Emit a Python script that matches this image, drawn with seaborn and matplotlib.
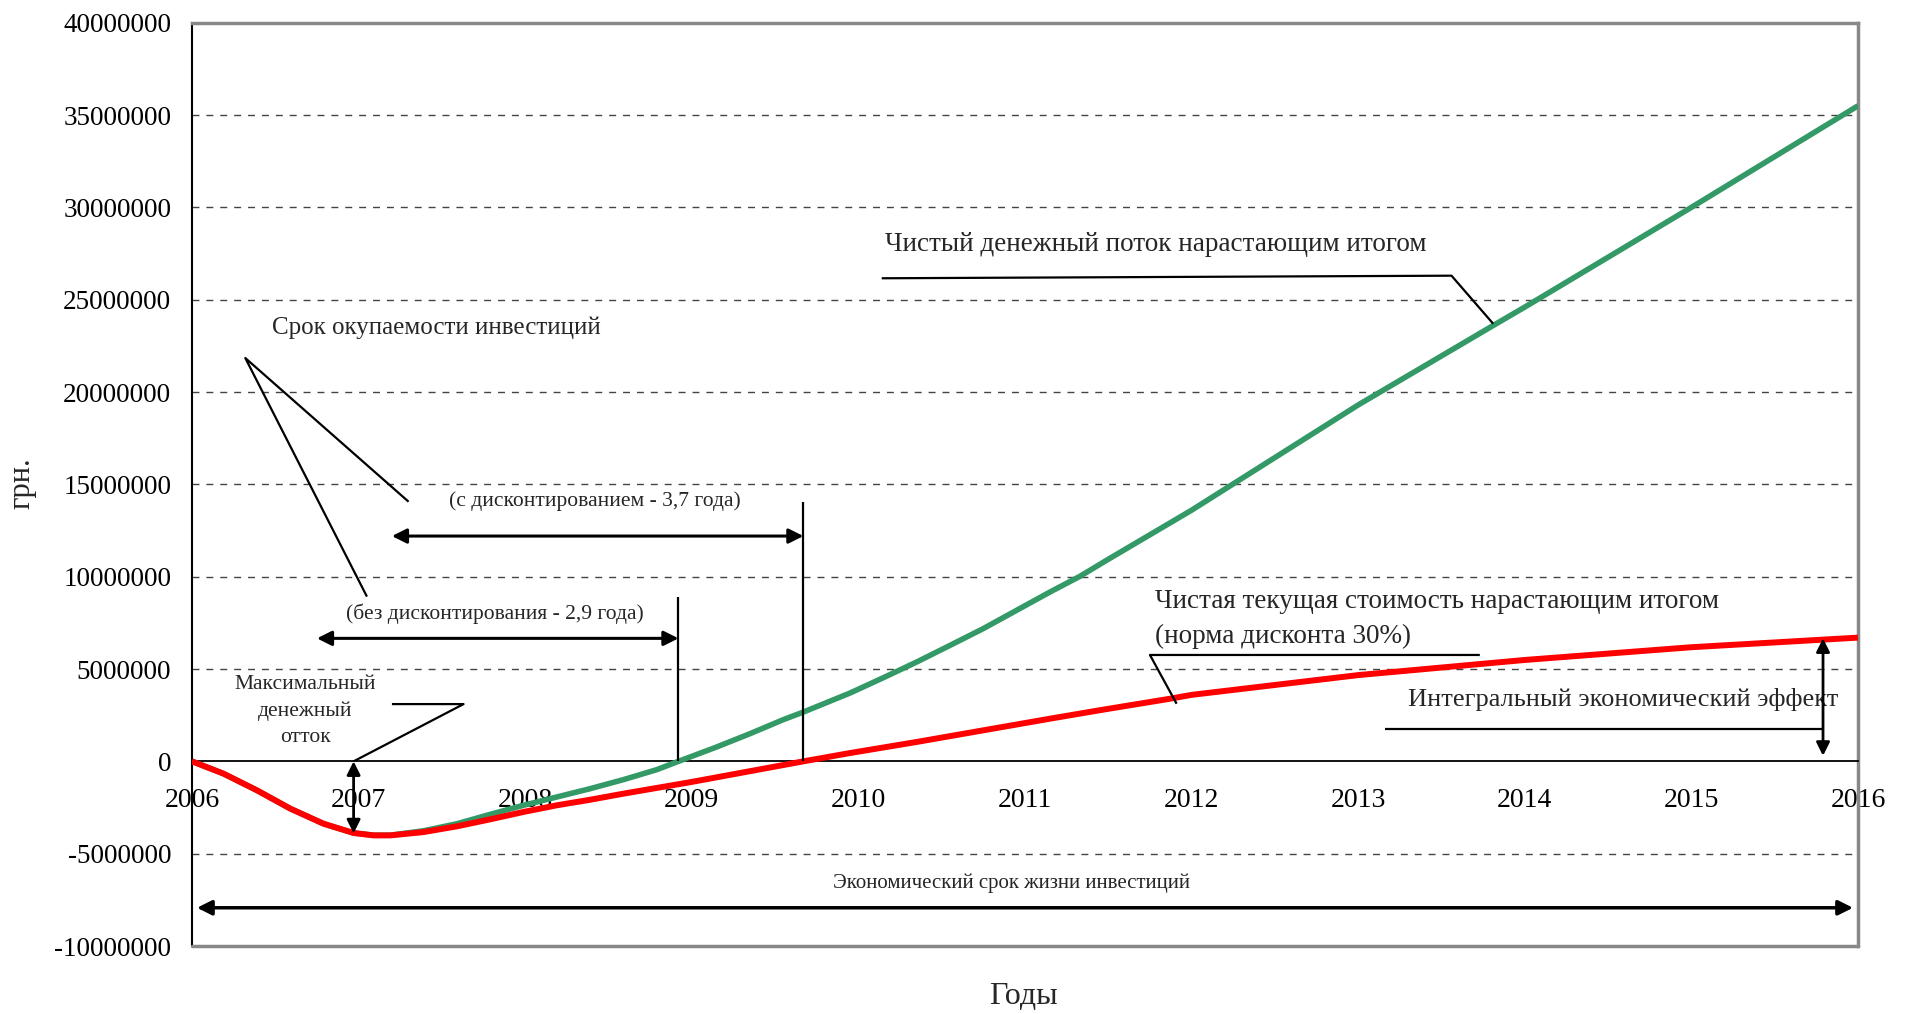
import matplotlib
matplotlib.use("Agg")
import matplotlib.pyplot as plt
import seaborn as sns
import pandas as pd

# ---- data, values in million UAH ----
years_cf = [2006, 2006.19, 2006.39, 2006.59, 2006.79, 2006.97, 2007.09, 2007.19,
            2007.39, 2007.59, 2007.79, 2007.99, 2008.19, 2008.39, 2008.59, 2008.79,
            2008.92, 2009.15, 2009.35, 2009.55, 2009.67, 2009.95, 2010.15, 2010.35,
            2010.55, 2010.75, 2010.95, 2011.15, 2011.33, 2011.49, 2012, 2012.5,
            2013, 2013.81, 2014, 2015, 2016]
cash_flow_cum = [0, -0.67, -1.57, -2.56, -3.38, -3.88, -4.0, -4.0,
                 -3.76, -3.38, -2.87, -2.38, -1.93, -1.48, -0.99, -0.45,
                 0, 0.78, 1.5, 2.26, 2.67, 3.7, 4.53, 5.38,
                 6.28, 7.19, 8.18, 9.17, 10.02, 10.89, 13.6, 16.45,
                 19.3, 23.6, 24.6, 30.0, 35.5]

years_npv = [2006, 2006.19, 2006.39, 2006.59, 2006.79, 2006.97, 2007.09, 2007.19,
             2007.39, 2007.59, 2007.79, 2007.99, 2008.19, 2008.39, 2008.59, 2008.79,
             2008.99, 2009.67, 2009.95, 2010.35, 2010.75, 2011.15, 2011.45, 2011.87,
             2012, 2013, 2014, 2015, 2016]
npv_cum = [0, -0.67, -1.57, -2.56, -3.38, -3.88, -4.01, -4.01,
           -3.83, -3.52, -3.14, -2.74, -2.38, -2.08, -1.75, -1.44,
           -1.13, 0, 0.45, 1.05, 1.68, 2.31, 2.77, 3.39,
           3.6, 4.67, 5.49, 6.18, 6.70]

series_names = ["Чистый денежный поток", "Чистая текущая стоимость"]
series_colors = ["#339966", "#FF0000"]
x_ticks = list(range(2006, 2017))
y_ticks = list(range(-10000000, 40000001, 5000000))

df = pd.concat([
    pd.DataFrame({"year": years_cf, "value": [v * 1e6 for v in cash_flow_cum], "series": series_names[0]}),
    pd.DataFrame({"year": years_npv, "value": [v * 1e6 for v in npv_cum], "series": series_names[1]}),
])

sns.set_style("white")
plt.rcParams["font.family"] = ["Liberation Serif", "DejaVu Serif"]

W, H = 1910, 1014
fig = plt.figure(figsize=(W / 100, H / 100), dpi=100)
L, R, T, B = 192, 1858, 22.7, 946
ax = fig.add_axes([L / W, 1 - B / H, (R - L) / W, (B - T) / H])

ax.set_xlim(2006, 2016)
ax.set_ylim(-10e6, 40e6)

ax.set_yticks(y_ticks)
ax.set_yticklabels([str(v) for v in y_ticks])
ax.set_xticks(x_ticks)
ax.set_xticklabels([str(v) for v in x_ticks])
for v in y_ticks:
    if v not in (0, 40000000, -10000000):
        ax.axhline(v, color="#444444", lw=1.0, linestyle=(0, (5, 5)), zorder=0.5)

sns.lineplot(data=df, x="year", y="value", hue="series", hue_order=series_names,
             palette=series_colors, linewidth=4.0, legend=False, ax=ax, zorder=3,
             estimator=None, sort=False)
for ln in ax.lines[-2:]:
    ln.set_solid_joinstyle("round")
    ln.set_solid_capstyle("butt")
ax.lines[-1].set_linewidth(4.3)

# frame
for s in ("top", "right"):
    ax.spines[s].set_color("#888888")
    ax.spines[s].set_linewidth(2.5)
ax.spines["left"].set_color("black")
ax.spines["left"].set_linewidth(1.5)
ax.spines["bottom"].set_position(("data", 0))
ax.spines["bottom"].set_color("black")
ax.spines["bottom"].set_linewidth(1.3)
ax.plot([0, 1], [0, 0], transform=ax.transAxes, color="#888888", lw=2.5, clip_on=False, zorder=5)

ax.tick_params(axis="x", direction="out", length=6, width=1.2, pad=13, labelsize=20, colors="black")
ax.tick_params(axis="y", direction="inout", length=12, width=1.2, pad=9, labelsize=19.5, colors="black")
ax.set_xlabel("")
ax.set_ylabel("")

fig.text(1023 / W, 1 - 996 / H, "Годы", fontsize=23, ha="center", va="center")
fig.text(22 / W, 1 - 483 / H, "грн.", fontsize=22, ha="center", va="center", rotation=90)

lk = dict(color="black", lw=1.6, zorder=4, solid_capstyle="butt")
M = 1e6
arr = dict(arrowstyle="<|-|>", color="black", shrinkA=0, shrinkB=0)

# net cash flow label
ax.text(2010.16, 28.0 * M, "Чистый денежный поток нарастающим итогом", fontsize=19.5, ha="left", va="center")
ax.plot([2010.14, 2013.56, 2013.81], [26.16 * M, 26.3 * M, 23.7 * M], **lk)

# payback label
ax.text(2006.48, 23.47 * M, "Срок окупаемости инвестиций", fontsize=18, ha="left", va="center")
ax.plot([2007.3, 2006.32, 2007.05], [14.06 * M, 21.84 * M, 8.92 * M], **lk)

# discounted payback
ax.text(2008.42, 14.1 * M, "(с дисконтированием - 3,7 года)", fontsize=15.5, ha="center", va="center")
ax.annotate("", xy=(2007.2, 12.2 * M), xytext=(2009.67, 12.2 * M),
            arrowprops=dict(arr, lw=2.2, mutation_scale=22), zorder=4)
ax.plot([2009.67, 2009.67], [0, 14.06 * M], **lk)

# simple payback
ax.text(2007.82, 8.0 * M, "(без дисконтирования - 2,9 года)", fontsize=15.5, ha="center", va="center")
ax.annotate("", xy=(2006.75, 6.66 * M), xytext=(2008.92, 6.66 * M),
            arrowprops=dict(arr, lw=2.2, mutation_scale=22), zorder=4)
ax.plot([2008.92, 2008.92], [0, 8.92 * M], **lk)

# max outflow
ax.text(2006.68, 2.71 * M, "Максимальный\nденежный\nотток", fontsize=15.5, ha="center", va="center",
        linespacing=1.5)
ax.plot([2007.2, 2007.63, 2006.97], [3.1 * M, 3.1 * M, 0], **lk)
ax.annotate("", xy=(2006.97, 0), xytext=(2006.97, -3.9 * M),
            arrowprops=dict(arr, lw=2.0, mutation_scale=20), zorder=4)

# NPV label
ax.text(2011.78, 8.66 * M, "Чистая текущая стоимость нарастающим итогом", fontsize=19.5, ha="left", va="center")
ax.text(2011.78, 6.76 * M, "(норма дисконта 30%)", fontsize=19.5, ha="left", va="center")
ax.plot([2013.73, 2011.75, 2011.91], [5.76 * M, 5.76 * M, 3.12 * M], **lk)

# integral effect
ax.text(2013.30, 3.35 * M, "Интегральный экономический эффект", fontsize=19, ha="left", va="center")
ax.plot([2013.16, 2015.79], [1.74 * M, 1.74 * M], **lk)
ax.annotate("", xy=(2015.79, 6.66 * M), xytext=(2015.79, 0.3 * M),
            arrowprops=dict(arr, lw=2.0, mutation_scale=20), zorder=4)

# economic life
ax.text(2010.92, -6.6 * M, "Экономический срок жизни инвестиций", fontsize=15, ha="center", va="center")
ax.annotate("", xy=(2006.03, -7.93 * M), xytext=(2015.97, -7.93 * M),
            arrowprops=dict(arr, lw=2.5, mutation_scale=22), zorder=4)

fig.savefig("out.png", dpi=100, facecolor="white")
